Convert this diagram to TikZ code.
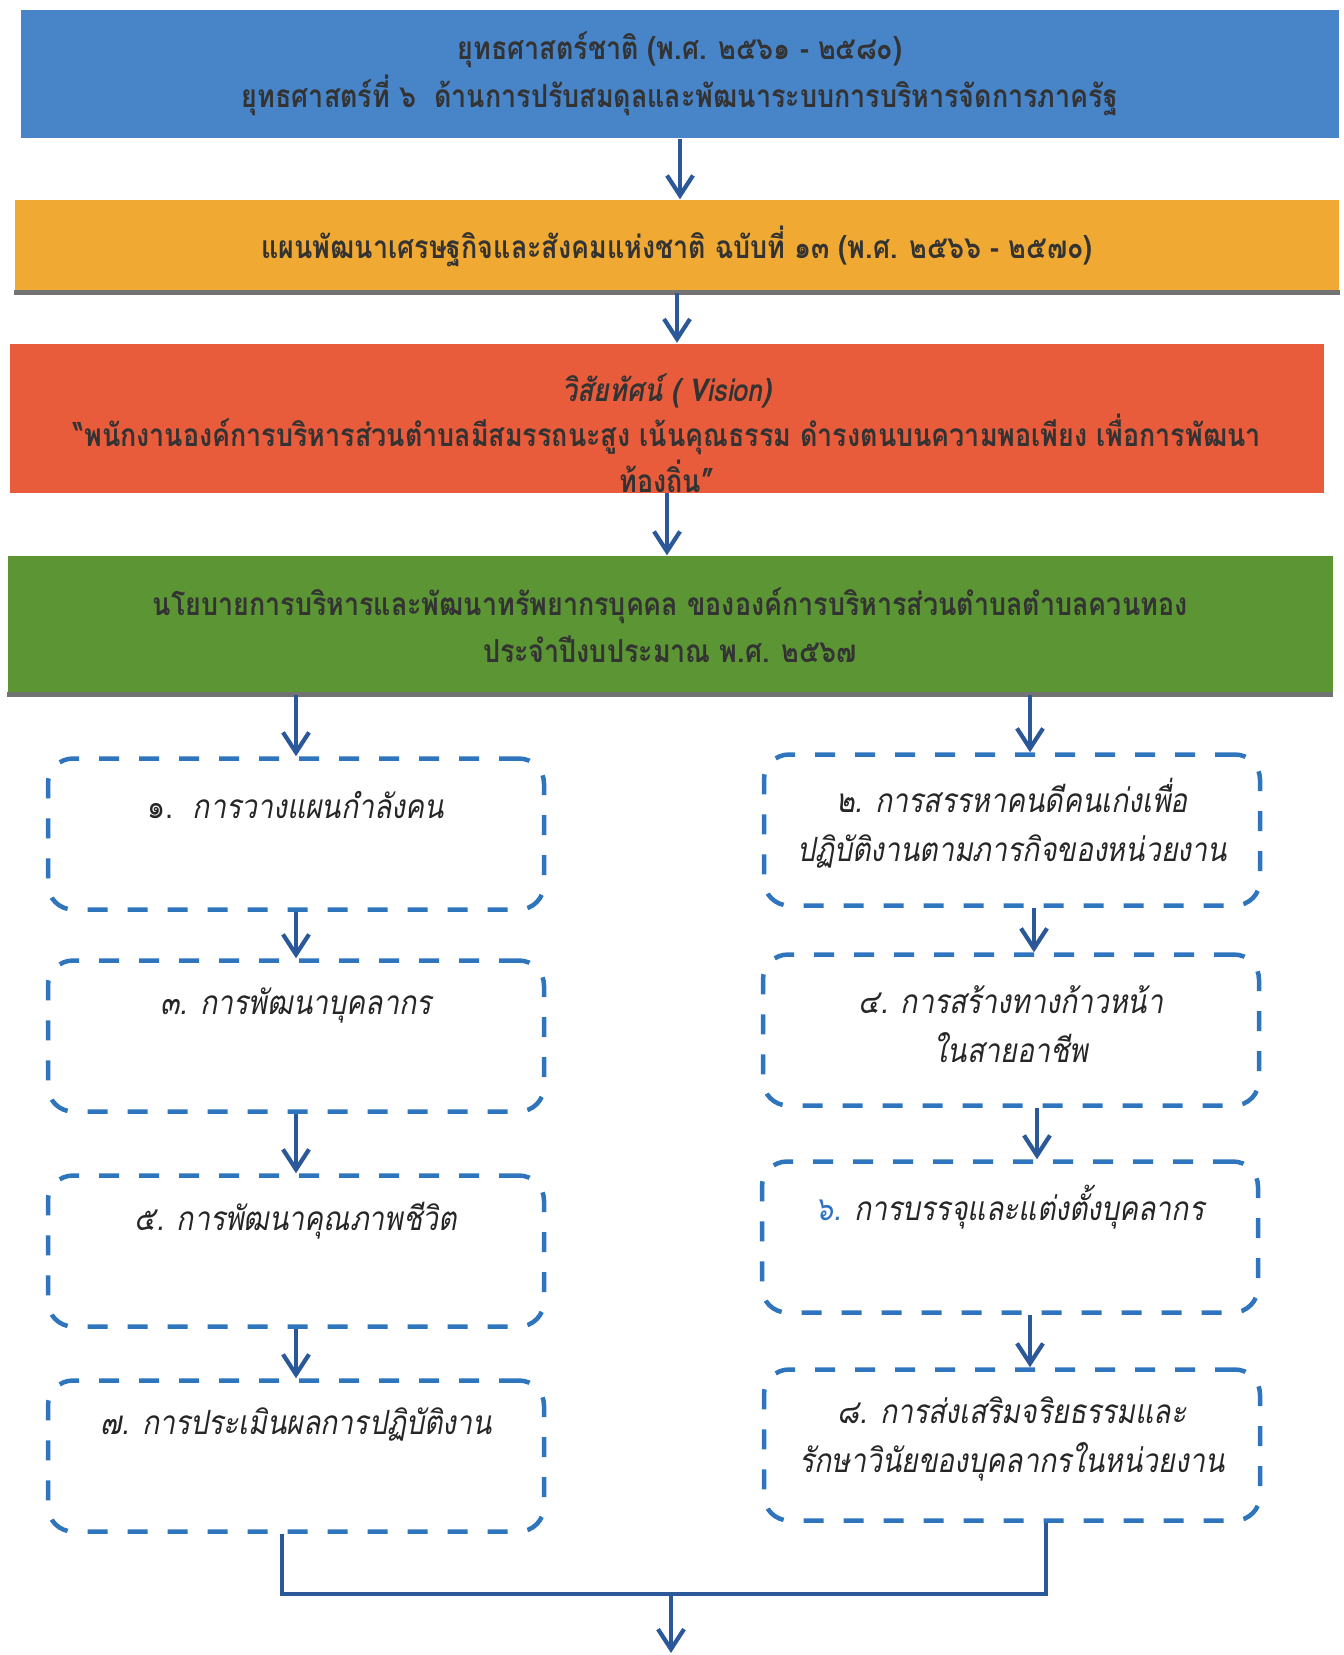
\documentclass[tikz,border=0pt]{standalone}
\usepackage{fontspec}
\setmainfont{Loma}[Script=Thai,FakeStretch=0.85]
\usetikzlibrary{arrows.meta}
\definecolor{hblue}{RGB}{72,132,200}
\definecolor{horange}{RGB}{240,170,52}
\definecolor{hred}{RGB}{232,92,60}
\definecolor{hgreen}{RGB}{92,150,52}
\definecolor{dblue}{RGB}{46,117,190}
\definecolor{ablue}{RGB}{42,88,152}
\tikzset{
  hbox/.style={fill=#1,inner sep=0pt,align=center},
  htxt/.style={font=\fontsize{9}{13.5}\selectfont\bfseries,text=black!80,align=center},
  dbox/.style={draw=dblue,line width=0.45mm,dash pattern=on 2mm off 2mm,rounded corners=2.5mm,minimum width=49.6mm,minimum height=15.1mm,inner sep=0pt},
  btxt/.style={font=\fontsize{9.5}{14}\selectfont\itshape,text=black!85,align=center},
  arr/.style={-{Straight Barb[length=2mm,width=2.6mm]},draw=ablue,line width=1.2pt},
  link/.style={draw=ablue,line width=1.2pt}
}
\begin{document}
\begin{tikzpicture}[x=0.1mm,y=-0.1mm]
\useasboundingbox (0,0) rectangle (1343,1655);
\node [hbox=hblue,htxt,minimum width=131.8mm,minimum height=12.8mm] (strat) at (680,74) {ยุทธศาสตร์ชาติ (พ.ศ. ๒๕๖๑ - ๒๕๘๐)\\ยุทธศาสตร์ที่ ๖~~ด้านการปรับสมดุลและพัฒนาระบบการบริหารจัดการภาครัฐ};
\node [hbox=horange,htxt,minimum width=132.4mm,minimum height=9.2mm] (plan) at (677,246) {แผนพัฒนาเศรษฐกิจและสังคมแห่งชาติ ฉบับที่ ๑๓ (พ.ศ. ๒๕๖๖ - ๒๕๗๐)};
\draw [line width=0.5mm,black!55] (plan.south west) -- (plan.south east);
\node [hbox=hred,minimum width=131.4mm,minimum height=14.9mm] (vision) at (667,418) {};
\begin{scope}
\clip (vision.south west) rectangle (vision.north east);
\node [htxt,font=\fontsize{9}{13}\selectfont\bfseries] (vtxt) at (667,433) {\itshape วิสัยทัศน์ ( Vision)\\“พนักงานองค์การบริหารส่วนตำบลมีสมรรถนะสูง เน้นคุณธรรม ดำรงตนบนความพอเพียง เพื่อการพัฒนา\\ท้องถิ่น”};
\end{scope}
\node [hbox=hgreen,htxt,minimum width=132.5mm,minimum height=13.8mm] (policy) at (670,625) {นโยบายการบริหารและพัฒนาทรัพยากรบุคคล ขององค์การบริหารส่วนตำบลตำบลควนทอง\\ประจำปีงบประมาณ พ.ศ. ๒๕๖๗};
\draw [line width=0.5mm,black!55] (policy.south west) -- (policy.south east);
\draw [arr] (strat.south) -- (strat.south |- plan.north);
\draw [arr] (plan.south) -- (plan.south |- vision.north);
\draw [arr] (vtxt.south |- vision.south) -- (vtxt.south |- policy.north);

\node [dbox] (b1) at (296,834) {};
\node [dbox] (b2) at (1012,830) {};
\node [dbox] (b3) at (296,1036) {};
\node [dbox] (b4) at (1011,1030) {};
\node [dbox] (b5) at (296,1251) {};
\node [dbox] (b6) at (1010,1237) {};
\node [dbox] (b7) at (296,1456) {};
\node [dbox] (b8) at (1012,1445) {};
\node [btxt] (t1) at (296,805) {\upshape ๑.~~\itshape การวางแผนกำลังคน};
\node [btxt] (t2) at (1012,823) {๒. การสรรหาคนดีคนเก่งเพื่อ\\ปฏิบัติงานตามภารกิจของหน่วยงาน};
\node [btxt] (t3) at (296,1005) {๓. การพัฒนาบุคลากร};
\node [btxt] (t4) at (1011,1024) {๔. การสร้างทางก้าวหน้า\\ในสายอาชีพ};
\node [btxt] (t5) at (296,1221) {๕. การพัฒนาคุณภาพชีวิต};
\node [btxt] (t6) at (1010,1207) {\textcolor{dblue}{๖.} การบรรจุและแต่งตั้งบุคลากร};
\node [btxt] (t7) at (296,1424) {๗. การประเมินผลการปฏิบัติงาน};
\node [btxt] (t8) at (1012,1439) {๘. การส่งเสริมจริยธรรมและ\\รักษาวินัยของบุคลากรในหน่วยงาน};

\draw [arr] (b1.north |- policy.south) -- (b1.north);
\draw [arr] ([xshift=1.8mm]b2.north |- policy.south) -- ([xshift=1.8mm]b2.north);
\draw [arr] (b1.south) -- (b1.south |- b3.north);
\draw [arr] ([xshift=2.2mm]b2.south) -- ([xshift=2.2mm]b2.south |- b4.north);
\draw [arr] (b3.south) -- (b3.south |- b5.north);
\draw [arr] ([xshift=2.6mm]b4.south) -- ([xshift=2.6mm]b4.south |- b6.north);
\draw [arr] (b5.south) -- (b5.south |- b7.north);
\draw [arr] ([xshift=2mm]b6.south) -- ([xshift=2mm]b6.south |- b8.north);

\coordinate (join) at (671,1594);
\coordinate (out) at (671,1653);
\draw [link] ([xshift=-1.4mm]b7.south) |- (join) -| ([xshift=3.4mm]b8.south);
\draw [arr] (join) -- (out);
\end{tikzpicture}
\end{document}
